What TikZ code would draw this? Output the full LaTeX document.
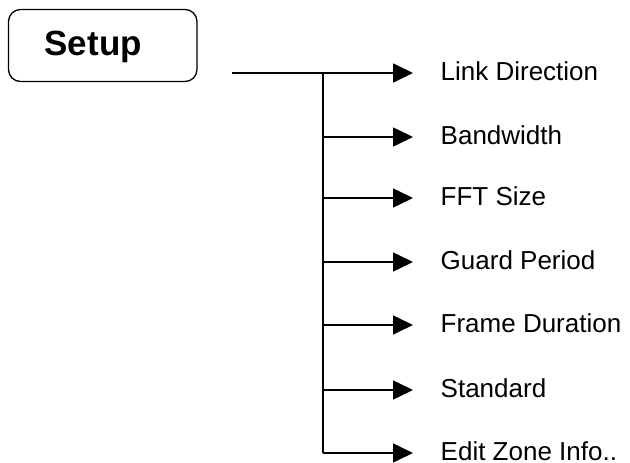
\documentclass[tikz,border=0pt]{standalone}
\usepackage{fontspec}
\setmainfont{Liberation Sans}
\usetikzlibrary{positioning, arrows.meta}

\begin{document}
\begin{tikzpicture}[
        x=1pt, y=1pt,
        menubox/.style={
            draw, rounded corners=12pt, line width=1.3pt,
            minimum width=188.5pt, minimum height=72pt
        },
        item/.style={
            font=\fontsize{26}{30}\selectfont, inner sep=0pt,
            text height=16pt, text depth=0.4pt, anchor=west
        },
        branch/.style={
            line width=1.6pt,
            -{Triangle[length=20pt, width=19pt]},
            shorten >=27.5pt
        },
        trunkline/.style={line width=1.8pt}
    ]
    \useasboundingbox (0,0) rectangle (630,-463);

    \node[menubox] (setup) at (102.75,-45.5) {};
    \node[font=\fontsize{35}{40}\selectfont\bfseries]
        (setuplbl) at ([xshift=-9.5pt, yshift=-1pt]setup.center) {Setup};

    \node[item] (l1) at (440.5,-73) {Link Direction};
    \node[item, below=64pt of l1.west, anchor=west] (l2) {Bandwidth};
    \node[item, below=61pt of l2.west, anchor=west] (l3) {FFT Size};
    \node[item, below=64pt of l3.west, anchor=west] (l4) {Guard Period};
    \node[item, below=63pt of l4.west, anchor=west] (l5) {Frame Duration};
    \node[item, below=65pt of l5.west, anchor=west] (l6) {Standard};
    \node[item, below=63pt of l6.west, anchor=west] (l7) {Edit Zone Info..};

    \coordinate (start) at ([xshift=34.5pt]setup.east |- l1.west);
    \coordinate (trunk) at ([xshift=91pt]start);

    \draw[branch, line width=1.8pt] (start) -- (l1.west);
    \draw[trunkline] (trunk) -- (trunk |- l7.west);
    \draw[branch] (trunk |- l2.west) -- (l2.west);
    \draw[branch] (trunk |- l3.west) -- (l3.west);
    \draw[branch] (trunk |- l4.west) -- (l4.west);
    \draw[branch] (trunk |- l5.west) -- (l5.west);
    \draw[branch] (trunk |- l6.west) -- (l6.west);
    \draw[branch] (trunk |- l7.west) -- (l7.west);

\end{tikzpicture}
\end{document}
